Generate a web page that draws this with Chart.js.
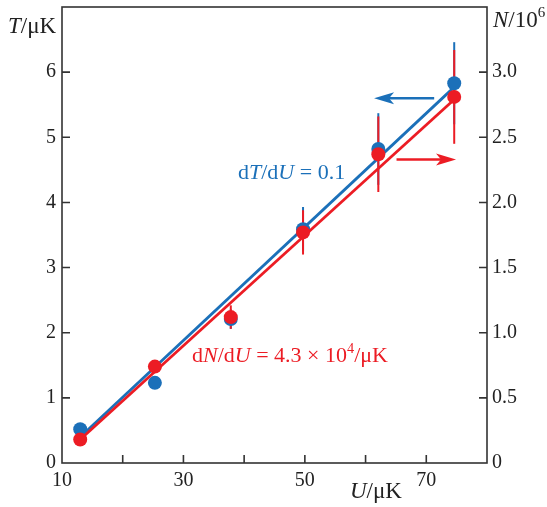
<!DOCTYPE html>
<html>
<head>
	<meta charset="utf-8">
	<title>T and N vs U</title>
	<script src="https://cdn.jsdelivr.net/npm/chart.js@4.4.0/dist/chart.umd.min.js"></script>
	<style>
		body { margin: 0; background: #fff; }
		#wrap { width: 547px; height: 507px; }
	</style>
</head>
<body>
	<div id="wrap"><canvas id="mychart" width="547" height="507"></canvas></div>

	<script type="text/javascript">

		// data
		const U = [13, 25.3, 37.8, 49.7, 62.1, 74.6];          // μK
		const T = [0.52, 1.23, 2.21, 3.59, 4.82, 5.83];        // μK (left axis)
		const Terr = [0, 0, 0.15, 0.34, 0.55, 0.63];
		const N = [0.18, 0.74, 1.12, 1.77, 2.37, 2.81];        // 10^6 (right axis)
		const Nerr = [0, 0, 0.09, 0.17, 0.29, 0.36];

		// fitted lines
		const fitU = [13, 74.6];
		const fitT = [0.40, 5.77];
		const fitN = [0.18, 2.79];

		// arrows pointing at the axis each series belongs to
		const arrowTU = [71.3, 61.4], arrowTY = 5.60;
		const arrowNU = [65.1, 74.9], arrowNY = 2.33;

		const xTicksLabelled = [10, 30, 50, 70];

		const BLUE = '#1b70b9';
		const RED = '#ec1c24';
		const AXIS = '#333333';
		const FONT = '"Liberation Serif", "DejaVu Serif", serif';

		function pts(xs, ys) {
			return xs.map((x, i) => ({ x: x, y: ys[i] }));
		}

		// draw text made of pieces: [text, italic, superscript]
		function richText(ctx, parts, x, y, size, color) {
			ctx.save();
			ctx.fillStyle = color;
			ctx.textBaseline = 'alphabetic';
			ctx.textAlign = 'left';
			let cx = x;
			parts.forEach(p => {
				const s = p[2] ? size * 0.65 : size;
				ctx.font = (p[1] ? 'italic ' : '') + s + 'px ' + FONT;
				ctx.fillText(p[0], cx, p[2] ? y - size * 0.42 : y);
				cx += ctx.measureText(p[0]).width;
			});
			ctx.restore();
		}

		function arrow(ctx, x0, x1, y, color) {
			const dir = Math.sign(x1 - x0);
			ctx.save();
			ctx.strokeStyle = color;
			ctx.fillStyle = color;
			ctx.lineWidth = 2.5;
			ctx.beginPath();
			ctx.moveTo(x0, y);
			ctx.lineTo(x1 - dir * 10, y);
			ctx.stroke();
			ctx.beginPath();
			ctx.moveTo(x1, y);
			ctx.lineTo(x1 - dir * 20, y - 6);
			ctx.lineTo(x1 - dir * 15, y);
			ctx.lineTo(x1 - dir * 20, y + 6);
			ctx.closePath();
			ctx.fill();
			ctx.restore();
		}

		const errorBars = {
			id: 'errorBars',
			beforeDatasetsDraw(chart) {
				const ctx = chart.ctx;
				const xs = chart.scales.x, yl = chart.scales.y, yr = chart.scales.y1;
				ctx.save();
				ctx.lineWidth = 2;
				[[T, Terr, yl, BLUE], [N, Nerr, yr, RED]].forEach(s => {
					ctx.strokeStyle = s[3];
					U.forEach((u, i) => {
						if (!s[1][i]) return;
						const px = xs.getPixelForValue(u);
						ctx.beginPath();
						ctx.moveTo(px, s[2].getPixelForValue(s[0][i] - s[1][i]));
						ctx.lineTo(px, s[2].getPixelForValue(s[0][i] + s[1][i]));
						ctx.stroke();
					});
				});
				ctx.restore();
			}
		};

		const decorations = {
			id: 'decorations',
			afterDraw(chart) {
				const ctx = chart.ctx;
				const a = chart.chartArea;
				const xs = chart.scales.x, yl = chart.scales.y, yr = chart.scales.y1;

				// frame with inward ticks
				ctx.save();
				ctx.strokeStyle = AXIS;
				ctx.lineWidth = 1.6;
				ctx.strokeRect(a.left, a.top, a.right - a.left, a.bottom - a.top);
				ctx.beginPath();
				for (let v = 20; v < 80; v += 10) {
					const px = xs.getPixelForValue(v);
					ctx.moveTo(px, a.bottom);
					ctx.lineTo(px, a.bottom - 8);
				}
				for (let v = 1; v < 7; v++) {
					const py = yl.getPixelForValue(v);
					ctx.moveTo(a.left, py);
					ctx.lineTo(a.left + 8, py);
				}
				for (let v = 0.5; v < 3.5; v += 0.5) {
					const py = yr.getPixelForValue(v);
					ctx.moveTo(a.right, py);
					ctx.lineTo(a.right - 8, py);
				}
				ctx.stroke();
				ctx.restore();

				// axis titles
				richText(ctx, [['T', true], ['/μK', false]], 8, 33, 23, '#222');
				richText(ctx, [['N', true], ['/10', false], ['6', false, true]], 493, 27, 23, '#222');
				richText(ctx, [['U', true], ['/μK', false]], 350, 498, 23, '#222');

				// arrows
				arrow(ctx, xs.getPixelForValue(arrowTU[0]), xs.getPixelForValue(arrowTU[1]), yl.getPixelForValue(arrowTY), BLUE);
				arrow(ctx, xs.getPixelForValue(arrowNU[0]), xs.getPixelForValue(arrowNU[1]), yr.getPixelForValue(arrowNY), RED);

				// slope labels
				richText(ctx, [['d', false], ['T', true], ['/d', false], ['U', true], [' = 0.1', false]],
					238, 179, 22, BLUE);
				richText(ctx, [['d', false], ['N', true], ['/d', false], ['U', true], [' = 4.3 × 10', false], ['4', false, true], ['/μK', false]],
					192, 362, 22, RED);
			}
		};

		const noPad = s => { s.paddingTop = 0; s.paddingBottom = 0; s.paddingLeft = 0; s.paddingRight = 0; };

		const ctx = document.getElementById('mychart').getContext('2d');

		const myChart = new Chart(ctx, {
			type: 'scatter',
			data: {
				datasets: [
				{
					label: 'N points',
					data: pts(U, N),
					yAxisID: 'y1',
					backgroundColor: RED,
					borderColor: RED,
					pointRadius: 7,
					borderWidth: 0,
					order: 0
				},
				{
					label: 'N fit',
					type: 'line',
					data: pts(fitU, fitN),
					yAxisID: 'y1',
					borderColor: RED,
					borderWidth: 2.8,
					pointRadius: 0,
					fill: false,
					order: 1
				},
				{
					label: 'T points',
					data: pts(U, T),
					yAxisID: 'y',
					backgroundColor: BLUE,
					borderColor: BLUE,
					pointRadius: 7,
					borderWidth: 0,
					order: 2
				},
				{
					label: 'T fit',
					type: 'line',
					data: pts(fitU, fitT),
					yAxisID: 'y',
					borderColor: BLUE,
					borderWidth: 2.8,
					pointRadius: 0,
					fill: false,
					order: 3
				}
			]},
			options: {
				responsive: false,
				animation: false,
				layout: { padding: { top: 7, right: 0, bottom: 0, left: 0 } },
				plugins: {
					legend: { display: false },
					tooltip: { enabled: false }
				},
				scales: {
					x: {
						type: 'linear',
						min: 10, max: 80,
						grid: { display: false, drawTicks: false },
						border: { display: false },
						ticks: {
							stepSize: 10,
							padding: 6,
							maxRotation: 0,
							autoSkip: false,
							color: '#222',
							font: { family: FONT, size: 20 },
							callback: v => xTicksLabelled.includes(v) ? String(v) : ''
						},
						afterFit: s => { s.height = 44; noPad(s); }
					},
					y: {
						position: 'left',
						min: 0, max: 7,
						grid: { display: false, drawTicks: false },
						border: { display: false },
						ticks: {
							stepSize: 1,
							padding: 6,
							color: '#222',
							font: { family: FONT, size: 20 },
							callback: v => v === 7 ? '' : String(v)
						},
						afterFit: s => { s.width = 62; noPad(s); }
					},
					y1: {
						position: 'right',
						min: 0, max: 3.5,
						grid: { display: false, drawTicks: false },
						border: { display: false },
						ticks: {
							stepSize: 0.5,
							padding: 5,
							color: '#222',
							font: { family: FONT, size: 20 },
							callback: v => v === 0 ? '0' : (v === 3.5 ? '' : v.toFixed(1))
						},
						afterFit: s => { s.width = 60; noPad(s); }
					}
				}
			},
			plugins: [errorBars, decorations]
		});

	</script>

</body>
</html>
